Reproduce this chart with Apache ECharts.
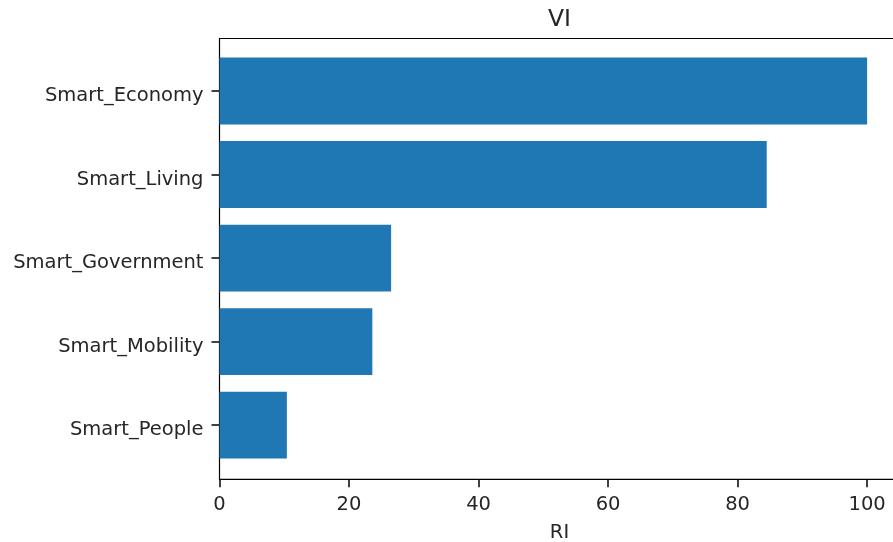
<!DOCTYPE html>
<html>
<head>
<meta charset="utf-8">
<script src="https://cdn.jsdelivr.net/npm/echarts@6/dist/echarts.min.js"></script>
<style>
  html, body { margin: 0; padding: 0; background: #fff; }
  #chart { width: 893px; height: 542px; }
</style>
</head>
<body>
<div id="chart"></div>
<script>
// Relative importance per smart-city dimension (top to bottom)
const categories = ['Smart_Economy', 'Smart_Living', 'Smart_Government', 'Smart_Mobility', 'Smart_People'];
const riValues = [100, 84.5, 26.5, 23.6, 10.4];
const xTicks = [0, 20, 40, 60, 80, 100];

const FONT = 'DejaVu Sans';
const TEXT = '#262626';
const X_MIN = 0, X_MAX = 105;
// plot area runs past the right edge of the canvas
const PLOT_LEFT = 219.5, PLOT_WIDTH = 680;

const chart = echarts.init(document.getElementById('chart'), null, { renderer: 'canvas' });

chart.setOption({
  animation: false,
  backgroundColor: '#ffffff',
  title: {
    text: 'VI',
    left: 543, top: 3,
    textStyle: { fontFamily: FONT, fontSize: 23.5, fontWeight: 'normal', color: TEXT }
  },
  grid: [
    // frame grid: spines and the value axis
    { left: PLOT_LEFT, width: PLOT_WIDTH, top: 38.5, height: 440.8, outerBoundsMode: 'none',
      show: true, borderColor: '#000', borderWidth: 1.2, backgroundColor: 'transparent', containLabel: false },
    // bar grid: category bands sized so each bar is 80% of its slot
    { left: PLOT_LEFT, width: PLOT_WIDTH, top: 49.2, height: 417.75, outerBoundsMode: 'none', containLabel: false }
  ],
  xAxis: [
    {
      gridIndex: 0, type: 'value', min: X_MIN, max: X_MAX, interval: 20,
      name: 'RI', nameLocation: 'middle', nameGap: 44,
      nameTextStyle: { fontFamily: FONT, fontSize: 19.5, color: TEXT },
      axisLine: { show: true, lineStyle: { color: '#000', width: 1.2 } },
      axisTick: { show: true, inside: false, length: 8, lineStyle: { color: '#111', width: 1.6 } },
      axisLabel: {
        margin: 16, fontFamily: FONT, fontSize: 19.5, color: TEXT,
        formatter: v => (xTicks.indexOf(v) >= 0 ? String(v) : '')
      },
      splitLine: { show: false }
    },
    {
      gridIndex: 1, type: 'value', min: X_MIN, max: X_MAX, show: false,
      splitLine: { show: false }
    }
  ],
  yAxis: [
    { gridIndex: 0, type: 'value', min: 0, max: 1, show: false, splitLine: { show: false } },
    {
      gridIndex: 1, type: 'category', data: categories, inverse: true,
      axisLine: { show: false },
      axisTick: { show: true, inside: false, length: 8, alignWithLabel: true, lineStyle: { color: '#111', width: 1.6 } },
      axisLabel: {
        margin: 16, verticalAlign: 'top', lineHeight: 10,
        fontFamily: FONT, fontSize: 19.5, color: TEXT
      },
      splitLine: { show: false }
    }
  ],
  series: [
    {
      type: 'bar',
      xAxisIndex: 1, yAxisIndex: 1,
      data: riValues,
      barWidth: '80%',
      itemStyle: { color: '#1f77b4' }
    }
  ]
});
</script>
</body>
</html>
